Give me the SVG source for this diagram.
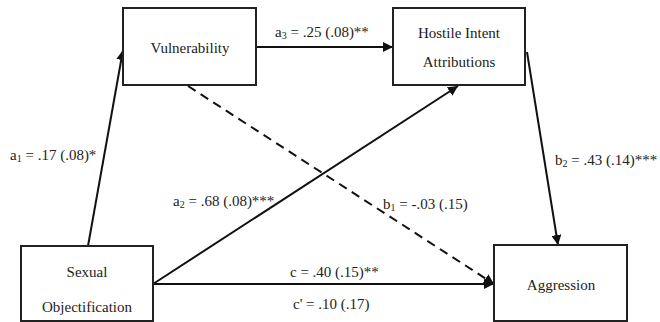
<svg xmlns="http://www.w3.org/2000/svg" width="660" height="322" viewBox="0 0 660 322">
<defs>
<style>
text{font-family:'Liberation Serif','Times New Roman',serif;font-size:15px;fill:#222}
.t{text-anchor:middle}
.sub{font-size:10px}
.box{fill:#fff;stroke:#222;stroke-width:2}
.e{stroke:#111;stroke-width:2;fill:none}
.d{stroke-dasharray:9 6}
</style>
<marker id="ah" viewBox="0 0 10 10" refX="10" refY="5" markerWidth="5" markerHeight="5" orient="auto" markerUnits="strokeWidth">
<path d="M0,0 L10,5 L0,10 z" fill="#111"/>
</marker>
</defs>
<rect width="660" height="322" fill="#fff"/>
<g id="connectors">
<line class="e" x1="88" y1="246" x2="123" y2="50" marker-end="url(#ah)"/>
<line class="e" x1="256" y1="47" x2="393" y2="47" marker-end="url(#ah)"/>
<line class="e d" x1="188" y1="86" x2="494" y2="284" marker-end="url(#ah)"/>
<line class="e" x1="153" y1="284" x2="458" y2="86" marker-end="url(#ah)"/>
<line class="e" x1="153" y1="284" x2="494" y2="284" marker-end="url(#ah)"/>
<line class="e" x1="527" y1="52" x2="558" y2="245" marker-end="url(#ah)"/>
<text x="10" y="160">a<tspan class="sub" dy="2">1</tspan><tspan dy="-2"> = .17 (.08)*</tspan></text>
<text x="275" y="37">a<tspan class="sub" dy="2">3</tspan><tspan dy="-2"> = .25 (.08)**</tspan></text>
<text x="173" y="206">a<tspan class="sub" dy="2">2</tspan><tspan dy="-2"> = .68 (.08)***</tspan></text>
<text x="383" y="209">b<tspan class="sub" dy="2">1</tspan><tspan dy="-2"> = -.03 (.15)</tspan></text>
<text x="555" y="165">b<tspan class="sub" dy="2">2</tspan><tspan dy="-2"> = .43 (.14)***</tspan></text>
<text x="290" y="277">c = .40 (.15)**</text>
<text x="293" y="309">c' = .10 (.17)</text>
</g>
<g id="vulnerability">
<rect class="box" x="123" y="8" width="133" height="77"/>
<text class="t" x="190" y="53">Vulnerability</text>
</g>
<g id="hostile">
<rect class="box" x="393" y="8" width="132" height="77"/>
<text class="t" x="459" y="38">Hostile Intent</text>
<text class="t" x="459" y="67">Attributions</text>
</g>
<g id="sexual">
<rect class="box" x="21" y="246" width="132" height="75"/>
<text class="t" x="87" y="277">Sexual</text>
<text class="t" x="87" y="312">Objectification</text>
</g>
<g id="aggression">
<rect class="box" x="494" y="245" width="133" height="76"/>
<text class="t" x="561" y="290">Aggression</text>
</g>
</svg>
